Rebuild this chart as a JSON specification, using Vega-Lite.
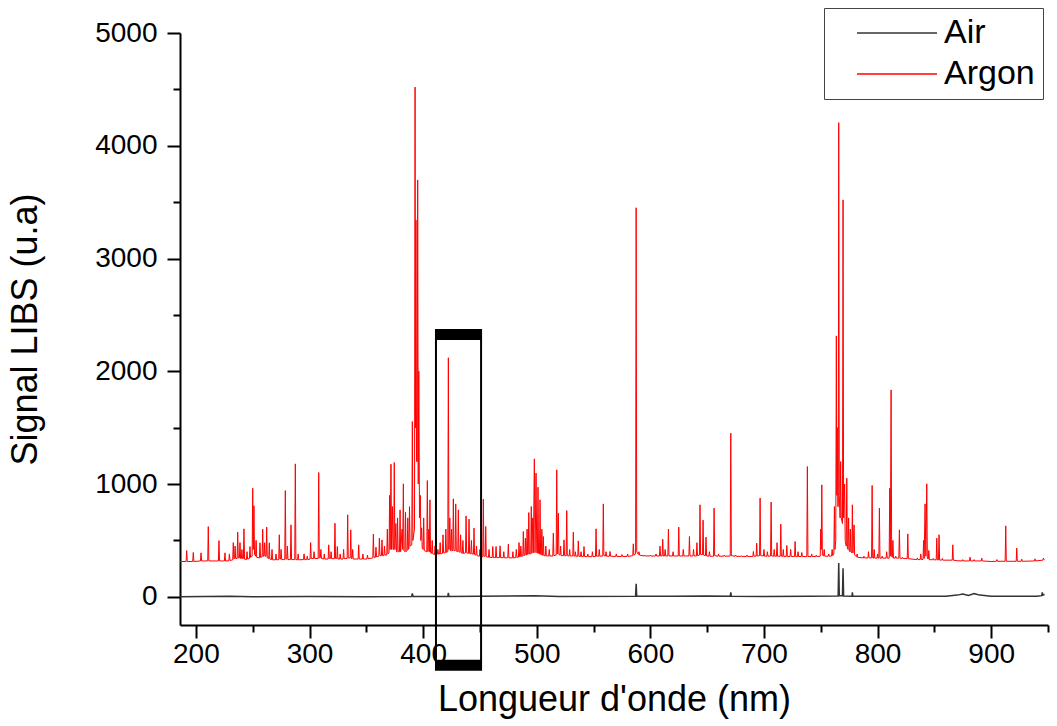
{
  "$schema": "https://vega.github.io/schema/vega-lite/v6.json",
  "width": 868,
  "height": 592,
  "autosize": "none",
  "padding": {"left": 180, "top": 33, "right": 9, "bottom": 101},
  "background": "white",
  "config": {
    "view": {"stroke": null},
    "font": "Liberation Sans",
    "axis": {
      "labelFont": "Liberation Sans",
      "titleFont": "Liberation Sans",
      "labelColor": "black",
      "titleColor": "black",
      "titleFontWeight": "normal",
      "domainColor": "black",
      "domainWidth": 2,
      "tickColor": "black",
      "tickWidth": 2,
      "grid": false
    }
  },
  "layer": [
    {
      "data": {"values": [
        {"x":186,"y":313},
        {"x":191.4,"y":313},{"x":191.9,"y":410},{"x":192.4,"y":313},
        {"x":197.2,"y":313},{"x":197.7,"y":393},{"x":198.2,"y":313},
        {"x":204,"y":318},{"x":204.5,"y":390},{"x":205,"y":318},
        {"x":210.4,"y":318},{"x":210.9,"y":623},{"x":211.4,"y":318},
        {"x":219.8,"y":318},{"x":220.3,"y":499},{"x":220.8,"y":318},
        {"x":225.1,"y":318},{"x":225.6,"y":390},{"x":226.1,"y":318},
        {"x":229,"y":320},{"x":229.5,"y":380},{"x":230,"y":322},
        {"x":232.4,"y":328},{"x":232.9,"y":481},{"x":233.4,"y":335},
        {"x":234,"y":340},{"x":234.5,"y":450},{"x":235,"y":340},
        {"x":236.3,"y":340},{"x":236.8,"y":573},{"x":237.3,"y":345},
        {"x":238.3,"y":345},{"x":238.8,"y":481},{"x":239.3,"y":340},
        {"x":240,"y":340},{"x":240.5,"y":420},{"x":241,"y":340},
        {"x":241.8,"y":340},{"x":242.3,"y":603},{"x":242.8,"y":335},
        {"x":244.5,"y":330},{"x":245,"y":400},{"x":245.5,"y":335},
        {"x":247.1,"y":340},{"x":247.6,"y":446},{"x":248.1,"y":350},
        {"x":249.5,"y":360},{"x":250,"y":963},{"x":250.5,"y":420},
        {"x":251.1,"y":807},{"x":251.6,"y":380},
        {"x":252.5,"y":360},{"x":253,"y":500},{"x":253.5,"y":350},
        {"x":255.9,"y":345},{"x":256.4,"y":479},{"x":256.9,"y":350},
        {"x":258.3,"y":355},{"x":258.8,"y":600},{"x":259.3,"y":360},
        {"x":260,"y":360},{"x":260.5,"y":480},{"x":261,"y":360},
        {"x":261.8,"y":360},{"x":262.3,"y":618},{"x":262.8,"y":345},
        {"x":264.1,"y":340},{"x":264.6,"y":479},{"x":265.1,"y":335},
        {"x":266.5,"y":330},{"x":267,"y":420},{"x":267.5,"y":328},
        {"x":270,"y":328},{"x":270.5,"y":380},{"x":271,"y":328},
        {"x":272.9,"y":330},{"x":273.4,"y":550},{"x":273.9,"y":335},
        {"x":274.5,"y":335},{"x":275,"y":420},{"x":275.5,"y":330},
        {"x":278.2,"y":330},{"x":278.7,"y":942},{"x":279.2,"y":335},
        {"x":280,"y":335},{"x":280.5,"y":450},{"x":281,"y":330},
        {"x":283.2,"y":330},{"x":283.7,"y":638},{"x":284.2,"y":330},
        {"x":287,"y":330},{"x":287.5,"y":1179},{"x":288,"y":330},
        {"x":289.5,"y":328},{"x":290,"y":380},{"x":290.5,"y":328},
        {"x":294.7,"y":330},{"x":295.2,"y":381},{"x":295.7,"y":330},
        {"x":297.5,"y":330},{"x":298,"y":360},{"x":298.5,"y":330},
        {"x":300.5,"y":335},{"x":301,"y":481},{"x":301.5,"y":340},
        {"x":303.5,"y":340},{"x":304,"y":400},{"x":304.5,"y":340},
        {"x":307.6,"y":340},{"x":308.1,"y":1102},{"x":308.6,"y":345},
        {"x":309.5,"y":345},{"x":310,"y":420},{"x":310.5,"y":340},
        {"x":312.5,"y":335},{"x":313,"y":380},{"x":313.5,"y":335},
        {"x":316.4,"y":335},{"x":316.9,"y":461},{"x":317.4,"y":340},
        {"x":318.5,"y":340},{"x":319,"y":400},{"x":319.5,"y":338},
        {"x":321.9,"y":338},{"x":322.4,"y":653},{"x":322.9,"y":340},
        {"x":324,"y":340},{"x":324.5,"y":446},{"x":325,"y":335},
        {"x":326.5,"y":335},{"x":327,"y":380},{"x":327.5,"y":335},
        {"x":329.5,"y":335},{"x":330,"y":420},{"x":330.5,"y":338},
        {"x":333.1,"y":340},{"x":333.6,"y":727},{"x":334.1,"y":345},
        {"x":335.8,"y":345},{"x":336.3,"y":594},{"x":336.8,"y":340},
        {"x":337.5,"y":340},{"x":338,"y":420},{"x":338.5,"y":335},
        {"x":342.8,"y":335},{"x":343.3,"y":461},{"x":343.8,"y":335},
        {"x":346.5,"y":335},{"x":347,"y":380},{"x":347.5,"y":335},
        {"x":350.5,"y":335},{"x":351,"y":370},{"x":351.5,"y":338},
        {"x":355.7,"y":345},{"x":356.2,"y":556},{"x":356.7,"y":350},
        {"x":358,"y":350},{"x":358.5,"y":440},{"x":359,"y":355},
        {"x":361,"y":360},{"x":361.5,"y":520},{"x":362,"y":365},
        {"x":363.3,"y":365},{"x":363.8,"y":505},{"x":364.3,"y":365},
        {"x":365.5,"y":365},{"x":366,"y":450},{"x":366.5,"y":370},
        {"x":368,"y":370},{"x":368.5,"y":600},{"x":369,"y":380},
        {"x":370,"y":390},{"x":370.5,"y":900},{"x":371,"y":420},
        {"x":371.7,"y":1176},{"x":372.2,"y":420},
        {"x":373,"y":800},{"x":373.5,"y":420},
        {"x":374.1,"y":420},{"x":374.6,"y":1191},{"x":375.1,"y":420},
        {"x":376,"y":650},{"x":376.5,"y":400},
        {"x":377,"y":400},{"x":377.5,"y":700},{"x":378,"y":400},
        {"x":379.2,"y":400},{"x":379.7,"y":771},{"x":380.2,"y":400},
        {"x":381.5,"y":600},{"x":382,"y":420},
        {"x":382.6,"y":1002},{"x":383.1,"y":410},
        {"x":384,"y":400},{"x":384.5,"y":750},{"x":385,"y":400},
        {"x":386,"y":410},{"x":386.5,"y":700},{"x":387,"y":420},
        {"x":387.5,"y":430},{"x":388,"y":800},{"x":388.5,"y":450},
        {"x":390,"y":460},{"x":390.5,"y":1554},{"x":391,"y":500},
        {"x":392.4,"y":600},{"x":392.9,"y":4520},{"x":393.3,"y":1500},
        {"x":393.7,"y":3340},{"x":394.2,"y":1200},
        {"x":394.8,"y":1200},{"x":395.2,"y":3697},{"x":395.7,"y":1000},
        {"x":396.2,"y":2000},{"x":396.8,"y":700},
        {"x":397.5,"y":900},{"x":398,"y":500},
        {"x":398.7,"y":612},{"x":399.2,"y":430},
        {"x":400,"y":420},{"x":400.5,"y":700},{"x":401,"y":410},
        {"x":403.2,"y":400},{"x":403.7,"y":1031},{"x":404.2,"y":400},
        {"x":405,"y":600},{"x":405.5,"y":400},
        {"x":406,"y":860},{"x":406.5,"y":390},
        {"x":407.5,"y":385},{"x":408,"y":500},{"x":408.5,"y":380},
        {"x":410,"y":375},{"x":410.5,"y":450},{"x":411,"y":375},
        {"x":412.5,"y":378},{"x":413,"y":420},{"x":413.5,"y":378},
        {"x":414.5,"y":380},{"x":415,"y":480},{"x":415.5,"y":380},
        {"x":417,"y":385},{"x":417.5,"y":550},{"x":418,"y":390},
        {"x":419.5,"y":390},{"x":420,"y":600},{"x":420.5,"y":395},
        {"x":421.7,"y":400},{"x":422.2,"y":2120},{"x":422.7,"y":420},
        {"x":423.5,"y":700},{"x":424,"y":410},
        {"x":424.5,"y":405},{"x":425,"y":600},{"x":425.5,"y":410},
        {"x":426.1,"y":410},{"x":426.6,"y":869},{"x":427.1,"y":410},
        {"x":428.2,"y":410},{"x":428.7,"y":824},{"x":429.2,"y":405},
        {"x":430.5,"y":400},{"x":431,"y":771},{"x":431.5,"y":400},
        {"x":432.5,"y":395},{"x":433,"y":550},{"x":433.5,"y":390},
        {"x":434.5,"y":385},{"x":435,"y":500},{"x":435.5,"y":385},
        {"x":437.3,"y":390},{"x":437.8,"y":718},{"x":438.3,"y":390},
        {"x":439.9,"y":385},{"x":440.4,"y":689},{"x":440.9,"y":385},
        {"x":442,"y":380},{"x":442.5,"y":500},{"x":443,"y":380},
        {"x":444.3,"y":380},{"x":444.8,"y":609},{"x":445.3,"y":375},
        {"x":446.5,"y":370},{"x":447,"y":450},{"x":447.5,"y":365},
        {"x":449.5,"y":360},{"x":450,"y":420},{"x":450.5,"y":355},
        {"x":452.5,"y":355},{"x":453,"y":866},{"x":453.5,"y":360},
        {"x":454.6,"y":360},{"x":455.1,"y":624},{"x":455.6,"y":355},
        {"x":457.5,"y":350},{"x":458,"y":420},{"x":458.5,"y":350},
        {"x":460.8,"y":348},{"x":461.3,"y":446},{"x":461.8,"y":348},
        {"x":463.7,"y":348},{"x":464.2,"y":446},{"x":464.7,"y":348},
        {"x":467.2,"y":348},{"x":467.7,"y":452},{"x":468.2,"y":348},
        {"x":470.5,"y":346},{"x":471,"y":400},{"x":471.5,"y":346},
        {"x":474.5,"y":346},{"x":475,"y":467},{"x":475.5,"y":346},
        {"x":478.5,"y":345},{"x":479,"y":400},{"x":479.5,"y":345},
        {"x":481.5,"y":348},{"x":482,"y":420},{"x":482.5,"y":350},
        {"x":483.9,"y":352},{"x":484.4,"y":481},{"x":484.9,"y":355},
        {"x":485.5,"y":356},{"x":486,"y":450},{"x":486.5,"y":358},
        {"x":487.7,"y":362},{"x":488.2,"y":579},{"x":488.7,"y":365},
        {"x":489.5,"y":368},{"x":490,"y":520},{"x":490.5,"y":370},
        {"x":491,"y":372},{"x":491.5,"y":600},{"x":492,"y":375},
        {"x":492.5,"y":378},{"x":493,"y":747},{"x":493.5,"y":380},
        {"x":494.7,"y":382},{"x":495.2,"y":801},{"x":495.7,"y":385},
        {"x":496.5,"y":700},{"x":497,"y":390},
        {"x":497.9,"y":1223},{"x":498.5,"y":392},
        {"x":499.4,"y":1097},{"x":500,"y":390},
        {"x":500.6,"y":388},{"x":501.1,"y":972},{"x":501.6,"y":385},
        {"x":502.4,"y":380},{"x":502.9,"y":860},{"x":503.4,"y":376},
        {"x":504,"y":372},{"x":504.5,"y":600},{"x":505,"y":370},
        {"x":505.4,"y":368},{"x":505.8,"y":535},{"x":506.3,"y":365},
        {"x":507.5,"y":364},{"x":508,"y":450},{"x":508.5,"y":363},
        {"x":510.5,"y":362},{"x":511,"y":420},{"x":511.5,"y":362},
        {"x":514.1,"y":362},{"x":514.6,"y":565},{"x":515.1,"y":365},
        {"x":517.1,"y":370},{"x":517.6,"y":1126},{"x":518.1,"y":380},
        {"x":519,"y":742},{"x":519.5,"y":375},
        {"x":520.5,"y":370},{"x":521,"y":450},{"x":521.5,"y":365},
        {"x":523.5,"y":365},{"x":524,"y":505},{"x":524.5,"y":365},
        {"x":525.9,"y":365},{"x":526.4,"y":765},{"x":526.9,"y":365},
        {"x":528.5,"y":362},{"x":529,"y":420},{"x":529.5,"y":362},
        {"x":531.7,"y":362},{"x":532.2,"y":573},{"x":532.7,"y":362},
        {"x":533.5,"y":360},{"x":534,"y":400},{"x":534.5,"y":360},
        {"x":536.1,"y":360},{"x":536.6,"y":496},{"x":537.1,"y":360},
        {"x":538.5,"y":358},{"x":539,"y":400},{"x":539.5,"y":358},
        {"x":541.1,"y":358},{"x":541.6,"y":446},{"x":542.1,"y":358},
        {"x":544.5,"y":356},{"x":545,"y":380},{"x":545.5,"y":356},
        {"x":548.5,"y":356},{"x":549,"y":400},{"x":549.5,"y":356},
        {"x":551.7,"y":358},{"x":552.2,"y":603},{"x":552.7,"y":360},
        {"x":554.5,"y":360},{"x":555,"y":420},{"x":555.5,"y":360},
        {"x":558.1,"y":362},{"x":558.6,"y":824},{"x":559.1,"y":365},
        {"x":560.5,"y":362},{"x":561,"y":400},{"x":561.5,"y":360},
        {"x":564,"y":360},{"x":564.5,"y":402},{"x":565,"y":360},
        {"x":569.5,"y":358},{"x":570,"y":380},{"x":570.5,"y":358},
        {"x":574.5,"y":358},{"x":575,"y":375},{"x":575.5,"y":358},
        {"x":579.5,"y":358},{"x":580,"y":380},{"x":580.5,"y":358},
        {"x":584.5,"y":365},{"x":585,"y":470},{"x":585.5,"y":370},
        {"x":587,"y":380},{"x":587.5,"y":3450},{"x":588,"y":400},
        {"x":589.5,"y":375},{"x":590,"y":400},{"x":590.5,"y":370},
        {"x":594.5,"y":362},{"x":595,"y":370},{"x":595.5,"y":362},
        {"x":599.5,"y":362},{"x":600,"y":370},{"x":600.5,"y":362},
        {"x":604.5,"y":362},{"x":605,"y":380},{"x":605.5,"y":362},
        {"x":608,"y":362},{"x":608.5,"y":450},{"x":609,"y":362},
        {"x":610.4,"y":362},{"x":610.9,"y":511},{"x":611.4,"y":362},
        {"x":612.5,"y":362},{"x":613,"y":420},{"x":613.5,"y":362},
        {"x":615.4,"y":362},{"x":615.9,"y":600},{"x":616.4,"y":362},
        {"x":619.5,"y":362},{"x":620,"y":400},{"x":620.5,"y":362},
        {"x":624.5,"y":362},{"x":625,"y":618},{"x":625.5,"y":362},
        {"x":628.5,"y":362},{"x":629,"y":420},{"x":629.5,"y":362},
        {"x":633.9,"y":362},{"x":634.4,"y":535},{"x":634.9,"y":362},
        {"x":637.5,"y":362},{"x":638,"y":420},{"x":638.5,"y":362},
        {"x":640.5,"y":362},{"x":641,"y":480},{"x":641.5,"y":365},
        {"x":643.2,"y":370},{"x":643.7,"y":816},{"x":644.2,"y":375},
        {"x":645.9,"y":375},{"x":646.4,"y":680},{"x":646.9,"y":370},
        {"x":648.5,"y":365},{"x":649,"y":529},{"x":649.5,"y":362},
        {"x":651.5,"y":360},{"x":652,"y":400},{"x":652.5,"y":360},
        {"x":655.6,"y":360},{"x":656.1,"y":786},{"x":656.6,"y":365},
        {"x":659.5,"y":360},{"x":660,"y":380},{"x":660.5,"y":360},
        {"x":664.5,"y":360},{"x":665,"y":370},{"x":665.5,"y":360},
        {"x":670.3,"y":362},{"x":670.8,"y":1451},{"x":671.3,"y":365},
        {"x":674.5,"y":360},{"x":675,"y":370},{"x":675.5,"y":360},
        {"x":679.5,"y":358},{"x":680,"y":365},{"x":680.5,"y":358},
        {"x":684.5,"y":358},{"x":685,"y":370},{"x":685.5,"y":358},
        {"x":690.2,"y":358},{"x":690.7,"y":402},{"x":691.2,"y":360},
        {"x":693.1,"y":360},{"x":693.6,"y":476},{"x":694.1,"y":362},
        {"x":696.1,"y":365},{"x":696.6,"y":875},{"x":697.1,"y":365},
        {"x":699.5,"y":362},{"x":700,"y":420},{"x":700.5,"y":360},
        {"x":702.5,"y":360},{"x":703,"y":400},{"x":703.5,"y":360},
        {"x":705.8,"y":362},{"x":706.3,"y":840},{"x":706.8,"y":362},
        {"x":708.5,"y":360},{"x":709,"y":420},{"x":709.5,"y":360},
        {"x":711,"y":360},{"x":711.5,"y":480},{"x":712,"y":360},
        {"x":714.3,"y":360},{"x":714.8,"y":644},{"x":715.3,"y":360},
        {"x":716.5,"y":358},{"x":717,"y":420},{"x":717.5,"y":358},
        {"x":719.6,"y":358},{"x":720.1,"y":455},{"x":720.6,"y":358},
        {"x":723,"y":358},{"x":723.5,"y":420},{"x":724,"y":358},
        {"x":726.9,"y":358},{"x":727.4,"y":490},{"x":727.9,"y":358},
        {"x":729.5,"y":357},{"x":730,"y":400},{"x":730.5,"y":357},
        {"x":732.8,"y":357},{"x":733.3,"y":393},{"x":733.8,"y":357},
        {"x":737.7,"y":357},{"x":738.2,"y":1155},{"x":738.7,"y":357},
        {"x":741.5,"y":357},{"x":742,"y":380},{"x":742.5,"y":357},
        {"x":745.5,"y":357},{"x":746,"y":370},{"x":746.5,"y":357},
        {"x":749.5,"y":360},{"x":750,"y":600},{"x":750.4,"y":420},
        {"x":750.9,"y":993},{"x":751.4,"y":370},
        {"x":752.5,"y":362},{"x":753,"y":420},{"x":753.5,"y":360},
        {"x":756.5,"y":360},{"x":757,"y":380},{"x":757.5,"y":360},
        {"x":759.5,"y":362},{"x":760,"y":420},{"x":760.5,"y":365},
        {"x":761.5,"y":380},{"x":762,"y":800},{"x":762.5,"y":420},
        {"x":763.2,"y":500},{"x":763.7,"y":2314},{"x":764.1,"y":900},
        {"x":764.5,"y":1500},{"x":765,"y":800},
        {"x":765.4,"y":800},{"x":765.8,"y":4205},{"x":766.3,"y":900},
        {"x":767,"y":700},{"x":767.5,"y":1200},{"x":768,"y":700},
        {"x":769.1,"y":650},{"x":769.6,"y":3520},{"x":770.1,"y":700},
        {"x":771,"y":1000},{"x":771.5,"y":500},
        {"x":772.4,"y":450},{"x":772.9,"y":1052},{"x":773.4,"y":430},
        {"x":774,"y":420},{"x":774.5,"y":700},{"x":775,"y":410},
        {"x":775.6,"y":400},{"x":776,"y":600},{"x":776.5,"y":400},
        {"x":777.3,"y":390},{"x":777.8,"y":816},{"x":778.3,"y":390},
        {"x":779.3,"y":638},{"x":779.8,"y":370},
        {"x":781.5,"y":355},{"x":782,"y":380},{"x":782.5,"y":350},
        {"x":787.5,"y":345},{"x":788,"y":360},{"x":788.5,"y":345},
        {"x":791.5,"y":345},{"x":792,"y":400},{"x":792.5,"y":345},
        {"x":794.7,"y":345},{"x":795.2,"y":987},{"x":795.7,"y":345},
        {"x":796.5,"y":343},{"x":797,"y":420},{"x":797.5,"y":343},
        {"x":799.5,"y":343},{"x":800,"y":380},{"x":800.5,"y":343},
        {"x":801.1,"y":343},{"x":801.6,"y":786},{"x":802.1,"y":343},
        {"x":803.5,"y":343},{"x":804,"y":360},{"x":804.5,"y":343},
        {"x":807.5,"y":343},{"x":808,"y":400},{"x":808.5,"y":343},
        {"x":810.2,"y":343},{"x":810.7,"y":963},{"x":811.2,"y":360},
        {"x":811.9,"y":1835},{"x":812.4,"y":360},
        {"x":813,"y":350},{"x":813.5,"y":500},{"x":814,"y":343},
        {"x":815.5,"y":343},{"x":816,"y":360},{"x":816.5,"y":343},
        {"x":818.7,"y":343},{"x":819.2,"y":594},{"x":819.7,"y":343},
        {"x":821.5,"y":340},{"x":822,"y":350},{"x":822.5,"y":340},
        {"x":826.1,"y":338},{"x":826.6,"y":558},{"x":827.1,"y":338},
        {"x":834.5,"y":330},{"x":835,"y":345},{"x":835.5,"y":330},
        {"x":837.5,"y":330},{"x":838,"y":380},{"x":838.5,"y":330},
        {"x":840,"y":332},{"x":840.5,"y":500},{"x":841,"y":340},
        {"x":841.8,"y":824},{"x":842.5,"y":360},
        {"x":843.3,"y":1002},{"x":843.8,"y":340},
        {"x":844.6,"y":335},{"x":845.1,"y":411},{"x":845.6,"y":330},
        {"x":848.5,"y":328},{"x":849,"y":340},{"x":849.5,"y":328},
        {"x":851.6,"y":328},{"x":852.1,"y":520},{"x":852.6,"y":328},
        {"x":853.6,"y":328},{"x":854.1,"y":550},{"x":854.6,"y":326},
        {"x":856.5,"y":325},{"x":857,"y":340},{"x":857.5,"y":325},
        {"x":865.7,"y":325},{"x":866.2,"y":461},{"x":866.7,"y":325},
        {"x":870,"y":320},
        {"x":874.5,"y":318},{"x":875,"y":330},{"x":875.5,"y":318},
        {"x":880.9,"y":318},{"x":881.4,"y":352},{"x":881.9,"y":318},
        {"x":884.5,"y":318},{"x":885,"y":330},{"x":885.5,"y":318},
        {"x":891.2,"y":318},{"x":891.7,"y":343},{"x":892.2,"y":318},
        {"x":900,"y":313},
        {"x":904.5,"y":315},{"x":905,"y":330},{"x":905.5,"y":315},
        {"x":912.3,"y":315},{"x":912.8,"y":629},{"x":913.3,"y":315},
        {"x":922,"y":315},{"x":922.5,"y":432},{"x":923,"y":315},
        {"x":926.4,"y":315},{"x":926.9,"y":334},{"x":927.4,"y":315},
        {"x":938.1,"y":318},{"x":938.6,"y":337},{"x":939.1,"y":318},
        {"x":945.5,"y":325},{"x":946,"y":343},{"x":946.5,"y":330},
        {"x":947,"y":328}
      ]},
      "mark": {"type": "line", "strokeWidth": 1},
      "encoding": {
        "x": {
          "field": "x", "type": "quantitative",
          "scale": {"domain": [186, 950], "nice": false, "zero": false},
          "axis": {
            "values": [200,250,300,350,400,450,500,550,600,650,700,750,800,850,900,950],
            "format": "d",
            "labelExpr": "datum.value % 100 === 0 ? datum.label : ''",
            "tickSize": {"condition": {"test": "datum.value % 100 === 0", "value": 13}, "value": 7},
            "labelFontSize": 28,
            "labelPadding": 2,
            "title": "Longueur d'onde (nm)",
            "titleFontSize": 36,
            "titlePadding": 14
          }
        },
        "y": {
          "field": "y", "type": "quantitative",
          "scale": {"domain": [-250, 5000], "nice": false, "zero": false},
          "axis": {
            "values": [0,500,1000,1500,2000,2500,3000,3500,4000,4500,5000],
            "format": "d",
            "labelExpr": "datum.value % 1000 === 0 ? datum.label : ''",
            "tickSize": {"condition": {"test": "datum.value % 1000 === 0", "value": 13}, "value": 7},
            "labelFontSize": 28,
            "labelPadding": 10,
            "title": "Signal LIBS (u.a)",
            "titleFontSize": 36,
            "titlePadding": 50
          }
        },
        "color": {
          "datum": "Argon",
          "type": "nominal",
          "scale": {"domain": ["Air", "Argon"], "range": ["#333333", "#ff0000"]},
          "legend": {
            "title": null,
            "orient": "none",
            "legendX": 644,
            "legendY": -25,
            "strokeColor": "#444444",
            "fillColor": "white",
            "padding": 8,
            "symbolType": "M0.8,0H8.8",
            "symbolSize": 400,
            "symbolStrokeWidth": 1.5,
            "labelFontSize": 34,
            "labelFont": "Liberation Sans",
            "labelColor": "black",
            "labelOffset": 78,
            "rowPadding": 7
          }
        }
      }
    },
    {
      "data": {"values": [
        {"x":186,"y":0},{"x":230,"y":4},{"x":250,"y":0},{"x":300,"y":3},{"x":350,"y":0},
        {"x":389.8,"y":2},{"x":390.5,"y":30},{"x":391.2,"y":2},
        {"x":421.7,"y":2},{"x":422.2,"y":35},{"x":422.7,"y":2},
        {"x":498,"y":10},{"x":520,"y":3},
        {"x":587,"y":5},{"x":587.5,"y":115},{"x":588,"y":5},
        {"x":620,"y":5},{"x":650,"y":8},
        {"x":670.3,"y":5},{"x":670.8,"y":40},{"x":671.3,"y":5},
        {"x":700,"y":3},{"x":740,"y":5},
        {"x":765.3,"y":8},{"x":765.8,"y":299},{"x":766.3,"y":10},
        {"x":769.1,"y":10},{"x":769.6,"y":254},{"x":770.1,"y":8},
        {"x":777.5,"y":5},{"x":777.8,"y":40},{"x":778.2,"y":5},
        {"x":800,"y":5},{"x":860,"y":5},{"x":870,"y":15},{"x":875,"y":25},
        {"x":880,"y":12},{"x":885,"y":28},{"x":890,"y":15},{"x":900,"y":5},
        {"x":940,"y":5},{"x":944.5,"y":10},{"x":945,"y":40},{"x":945.5,"y":15},{"x":947,"y":20}
      ]},
      "mark": {"type": "line", "strokeWidth": 1.5},
      "encoding": {
        "x": {"field": "x", "type": "quantitative"},
        "y": {"field": "y", "type": "quantitative"},
        "color": {"datum": "Air", "type": "nominal"}
      }
    },
    {
      "data": {"values": [{"x1": 411.3, "x2": 451, "y1": -647, "y2": 2367}]},
      "mark": {"type": "rect", "filled": false, "stroke": "black", "strokeWidth": 2},
      "encoding": {
        "x": {"field": "x1", "type": "quantitative"},
        "x2": {"field": "x2"},
        "y": {"field": "y1", "type": "quantitative"},
        "y2": {"field": "y2"}
      }
    },
    {
      "data": {"values": [
        {"x1": 411.3, "x2": 451, "y1": 2278, "y2": 2367},
        {"x1": 411.3, "x2": 451, "y1": -647, "y2": -558}
      ]},
      "mark": {"type": "rect", "color": "black"},
      "encoding": {
        "x": {"field": "x1", "type": "quantitative"},
        "x2": {"field": "x2"},
        "y": {"field": "y1", "type": "quantitative"},
        "y2": {"field": "y2"}
      }
    }
  ]
}
